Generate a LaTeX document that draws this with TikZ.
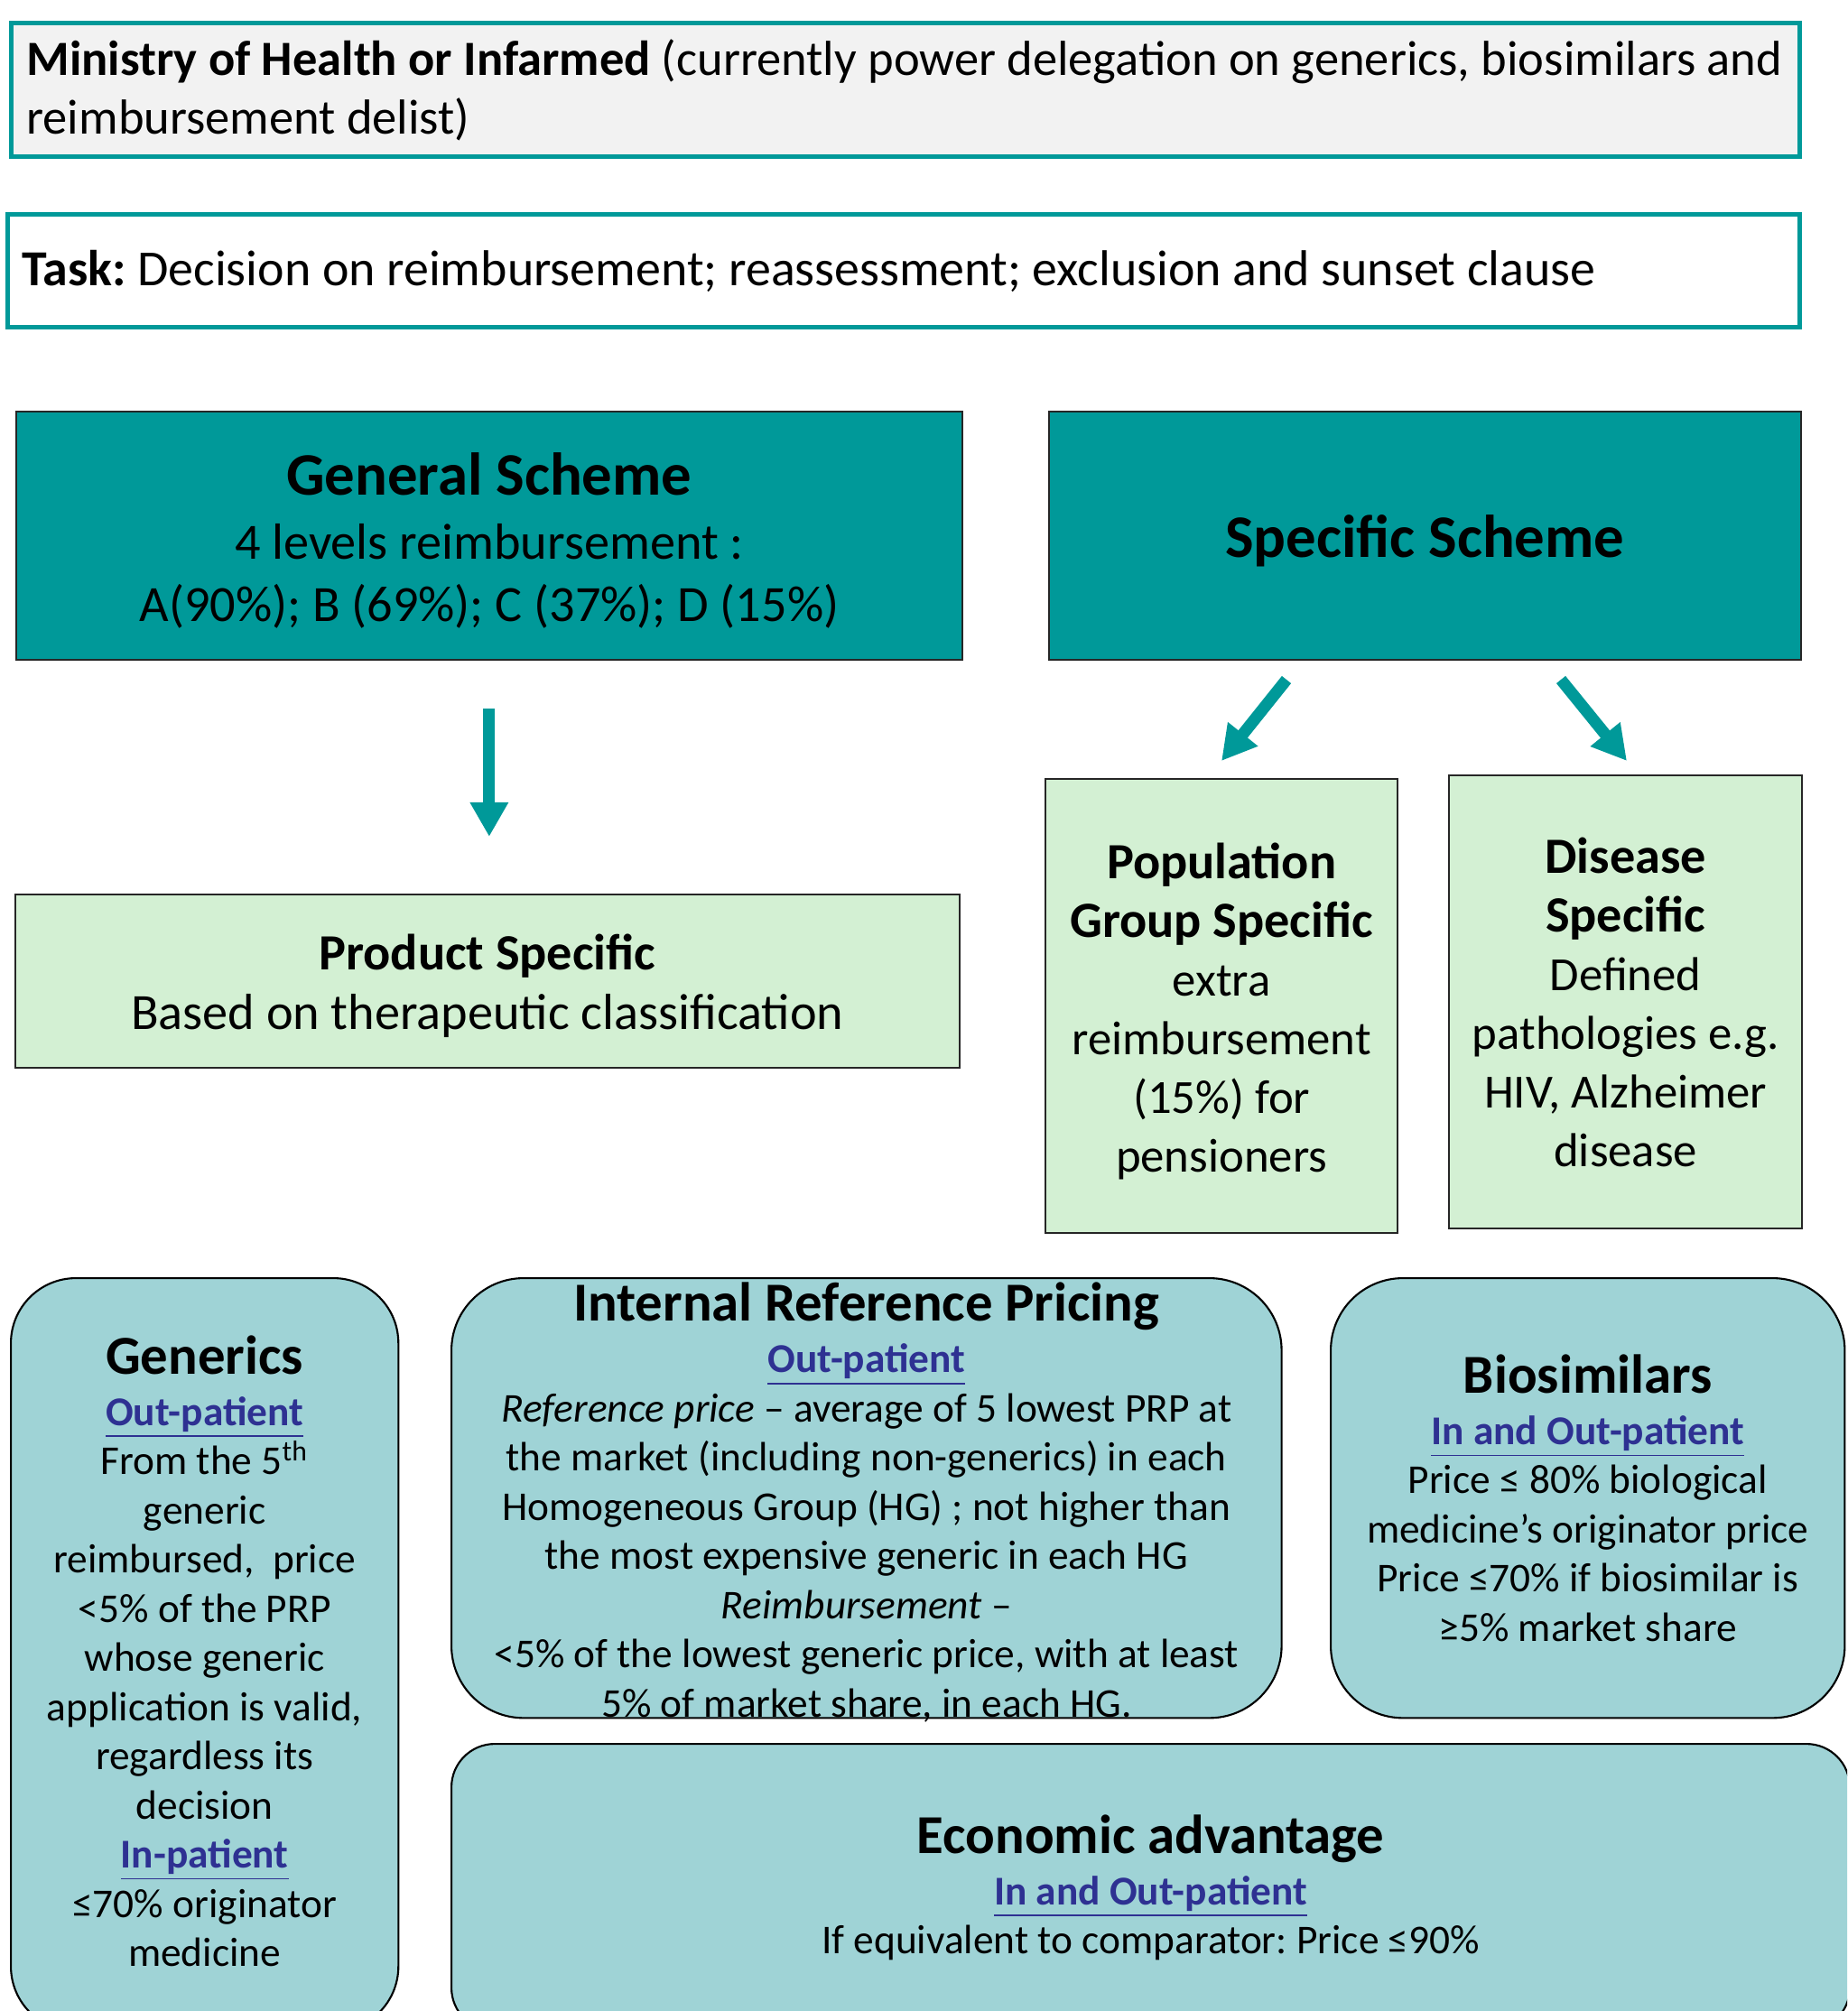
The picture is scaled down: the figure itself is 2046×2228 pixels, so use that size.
\documentclass[tikz,border=0pt]{standalone}
\usepackage{fontspec}
\setmainfont{Carlito}
\usetikzlibrary{arrows.meta}
\definecolor{tealdark}{RGB}{0,153,153}
\definecolor{greylight}{RGB}{242,242,242}
\definecolor{greenlight}{RGB}{211,240,211}
\definecolor{tealpale}{RGB}{159,211,214}
\definecolor{linkblue}{RGB}{46,49,146}
\newcommand{\patient}[1]{\textcolor{linkblue}{\bfseries\underline{#1}}}

\begin{document}
\frenchspacing
\begin{tikzpicture}[x=0.01cm,y=-0.01cm]
\tikzstyle{topbox}=[draw=tealdark,line width=0.05cm,anchor=north west,
align=flush left,font=\fontsize{15.5}{18.5}\selectfont]
\tikzstyle{scheme}=[draw=black!85,line width=0.6pt,fill=tealdark,
anchor=north west,align=center]
\tikzstyle{subbox}=[draw=black!85,line width=0.6pt,fill=greenlight,
anchor=north west,align=center]
\tikzstyle{rule}=[draw=black,line width=0.6pt,fill=tealpale,
anchor=north west,align=center,font=\fontsize{12.9}{15.5}\selectfont]
\tikzstyle{tealarrow}=[draw=tealdark,line width=0.13cm,
-{Triangle[length=0.38cm,width=0.40cm]}]

\useasboundingbox (0,0) rectangle (2046,2228);
\clip (0,0) rectangle (2046,2228);

\node[topbox,fill=greylight,inner xsep=0.17cm,text width=19.46cm,
minimum height=1.48cm] at (10,23) (moh) {\mbox{\textbf{Ministry of Health or Infarmed} (currently power delegation on generics, biosimilars and}\\reimbursement delist)};
\node[topbox,fill=white,inner xsep=0.155cm,text width=19.53cm,
minimum height=1.25cm,font=\fontsize{15.9}{18.5}\selectfont] at (6,235) (task) {\textbf{Task:} Decision on reimbursement; reassessment; exclusion and sunset clause};

\node[scheme,minimum width=10.47cm,minimum height=2.75cm,
font=\fontsize{16}{19.5}\selectfont] at (17,455) (gen) {\rule{0pt}{16.5pt}{\fontsize{19}{22}\selectfont\bfseries General Scheme}\\[0.7pt]
4 levels reimbursement :\\
A(90\%); B (69\%); C (37\%); D (15\%)};
\node[scheme,minimum width=8.32cm,minimum height=2.75cm,
font=\fontsize{19}{22}\selectfont\bfseries] at (1161,455) (spec) {\rule{0pt}{16.7pt}Specific Scheme};

\node[subbox,minimum width=10.45cm,minimum height=1.92cm,
font=\fontsize{16}{19}\selectfont] at (16,990) (prod) {\rule{0pt}{14.2pt}\textbf{Product Specific}\\
Based on therapeutic classification};
\node[subbox,minimum width=3.90cm,minimum height=5.03cm,
font=\fontsize{15}{18.5}\selectfont] at (1157,862) (pop) {\rule{0pt}{14.6pt}{\fontsize{16}{18.5}\selectfont\bfseries Population}\\
{\fontsize{16}{18.5}\selectfont\bfseries Group Specific}\\
extra\\reimbursement\\(15\%) for\\pensioners};
\node[subbox,minimum width=3.91cm,minimum height=5.02cm,
font=\fontsize{15}{18.5}\selectfont] at (1604,858) (dis) {{\fontsize{16}{18.5}\selectfont\bfseries Disease}\\
{\fontsize{16}{18.5}\selectfont\bfseries Specific}\\
Defined\\pathologies e.g.\\HIV, Alzheimer\\disease};

\node[rule,rounded corners=0.72cm,minimum width=4.29cm,minimum height=8.34cm] at (11,1415) (gener) {{\fontsize{17.3}{20}\selectfont\bfseries Generics}\\[0.7pt]
\patient{Out-patient}\\
From the 5\textsuperscript{th}\\generic\\reimbursed,\ \ price\\<5\% of the PRP\\whose generic\\application is valid,\\regardless its\\decision\\
\patient{In-patient}\\
≤70\% originator\\medicine\\[-17.7pt]\strut};
\node[rule,rounded corners=0.8cm,minimum width=9.19cm,minimum height=4.87cm,
inner ysep=-5pt] at (499,1415) (irp) {\rule{0pt}{15pt}{\fontsize{17.3}{20}\selectfont\bfseries Internal Reference Pricing}\\[0.7pt]
\patient{Out-patient}\\
\textit{Reference price} – average of 5 lowest PRP at\\
the market (including non-generics) in each\\
Homogeneous Group (HG) ; not higher than\\
the most expensive generic in each HG\\
\textit{Reimbursement} –\\
<5\% of the lowest generic price, with at least\\
5\% of market share, in each HG.};
\node[rule,rounded corners=0.8cm,minimum width=5.69cm,minimum height=4.87cm] at (1473,1415) (bio) {{\fontsize{17.3}{20}\selectfont\bfseries Biosimilars}\\[0.7pt]
\patient{In and Out-patient}\\
Price ≤ 80\% biological\\
medicine’s originator price\\
Price ≤70\% if biosimilar is\\
≥5\% market share};
\node[rule,rounded corners=0.48cm,minimum width=15.48cm,minimum height=3.18cm] at (499,1931) (econ) {{\fontsize{17.3}{20}\selectfont\bfseries Economic advantage}\\[0.7pt]
\patient{In and Out-patient}\\
If equivalent to comparator: Price ≤90\%};

\coordinate (sl) at (1425,753);
\coordinate (pl) at (1353,843);
\coordinate (sr) at (1729,753);
\coordinate (dr) at (1802,843);

\draw[tealarrow,shorten <=0.53cm,shorten >=0.63cm] (gen.south) -- (gen.south |- prod.north);
\draw[tealarrow] (sl) -- (pl);
\draw[tealarrow] (sr) -- (dr);

\end{tikzpicture}
\end{document}
